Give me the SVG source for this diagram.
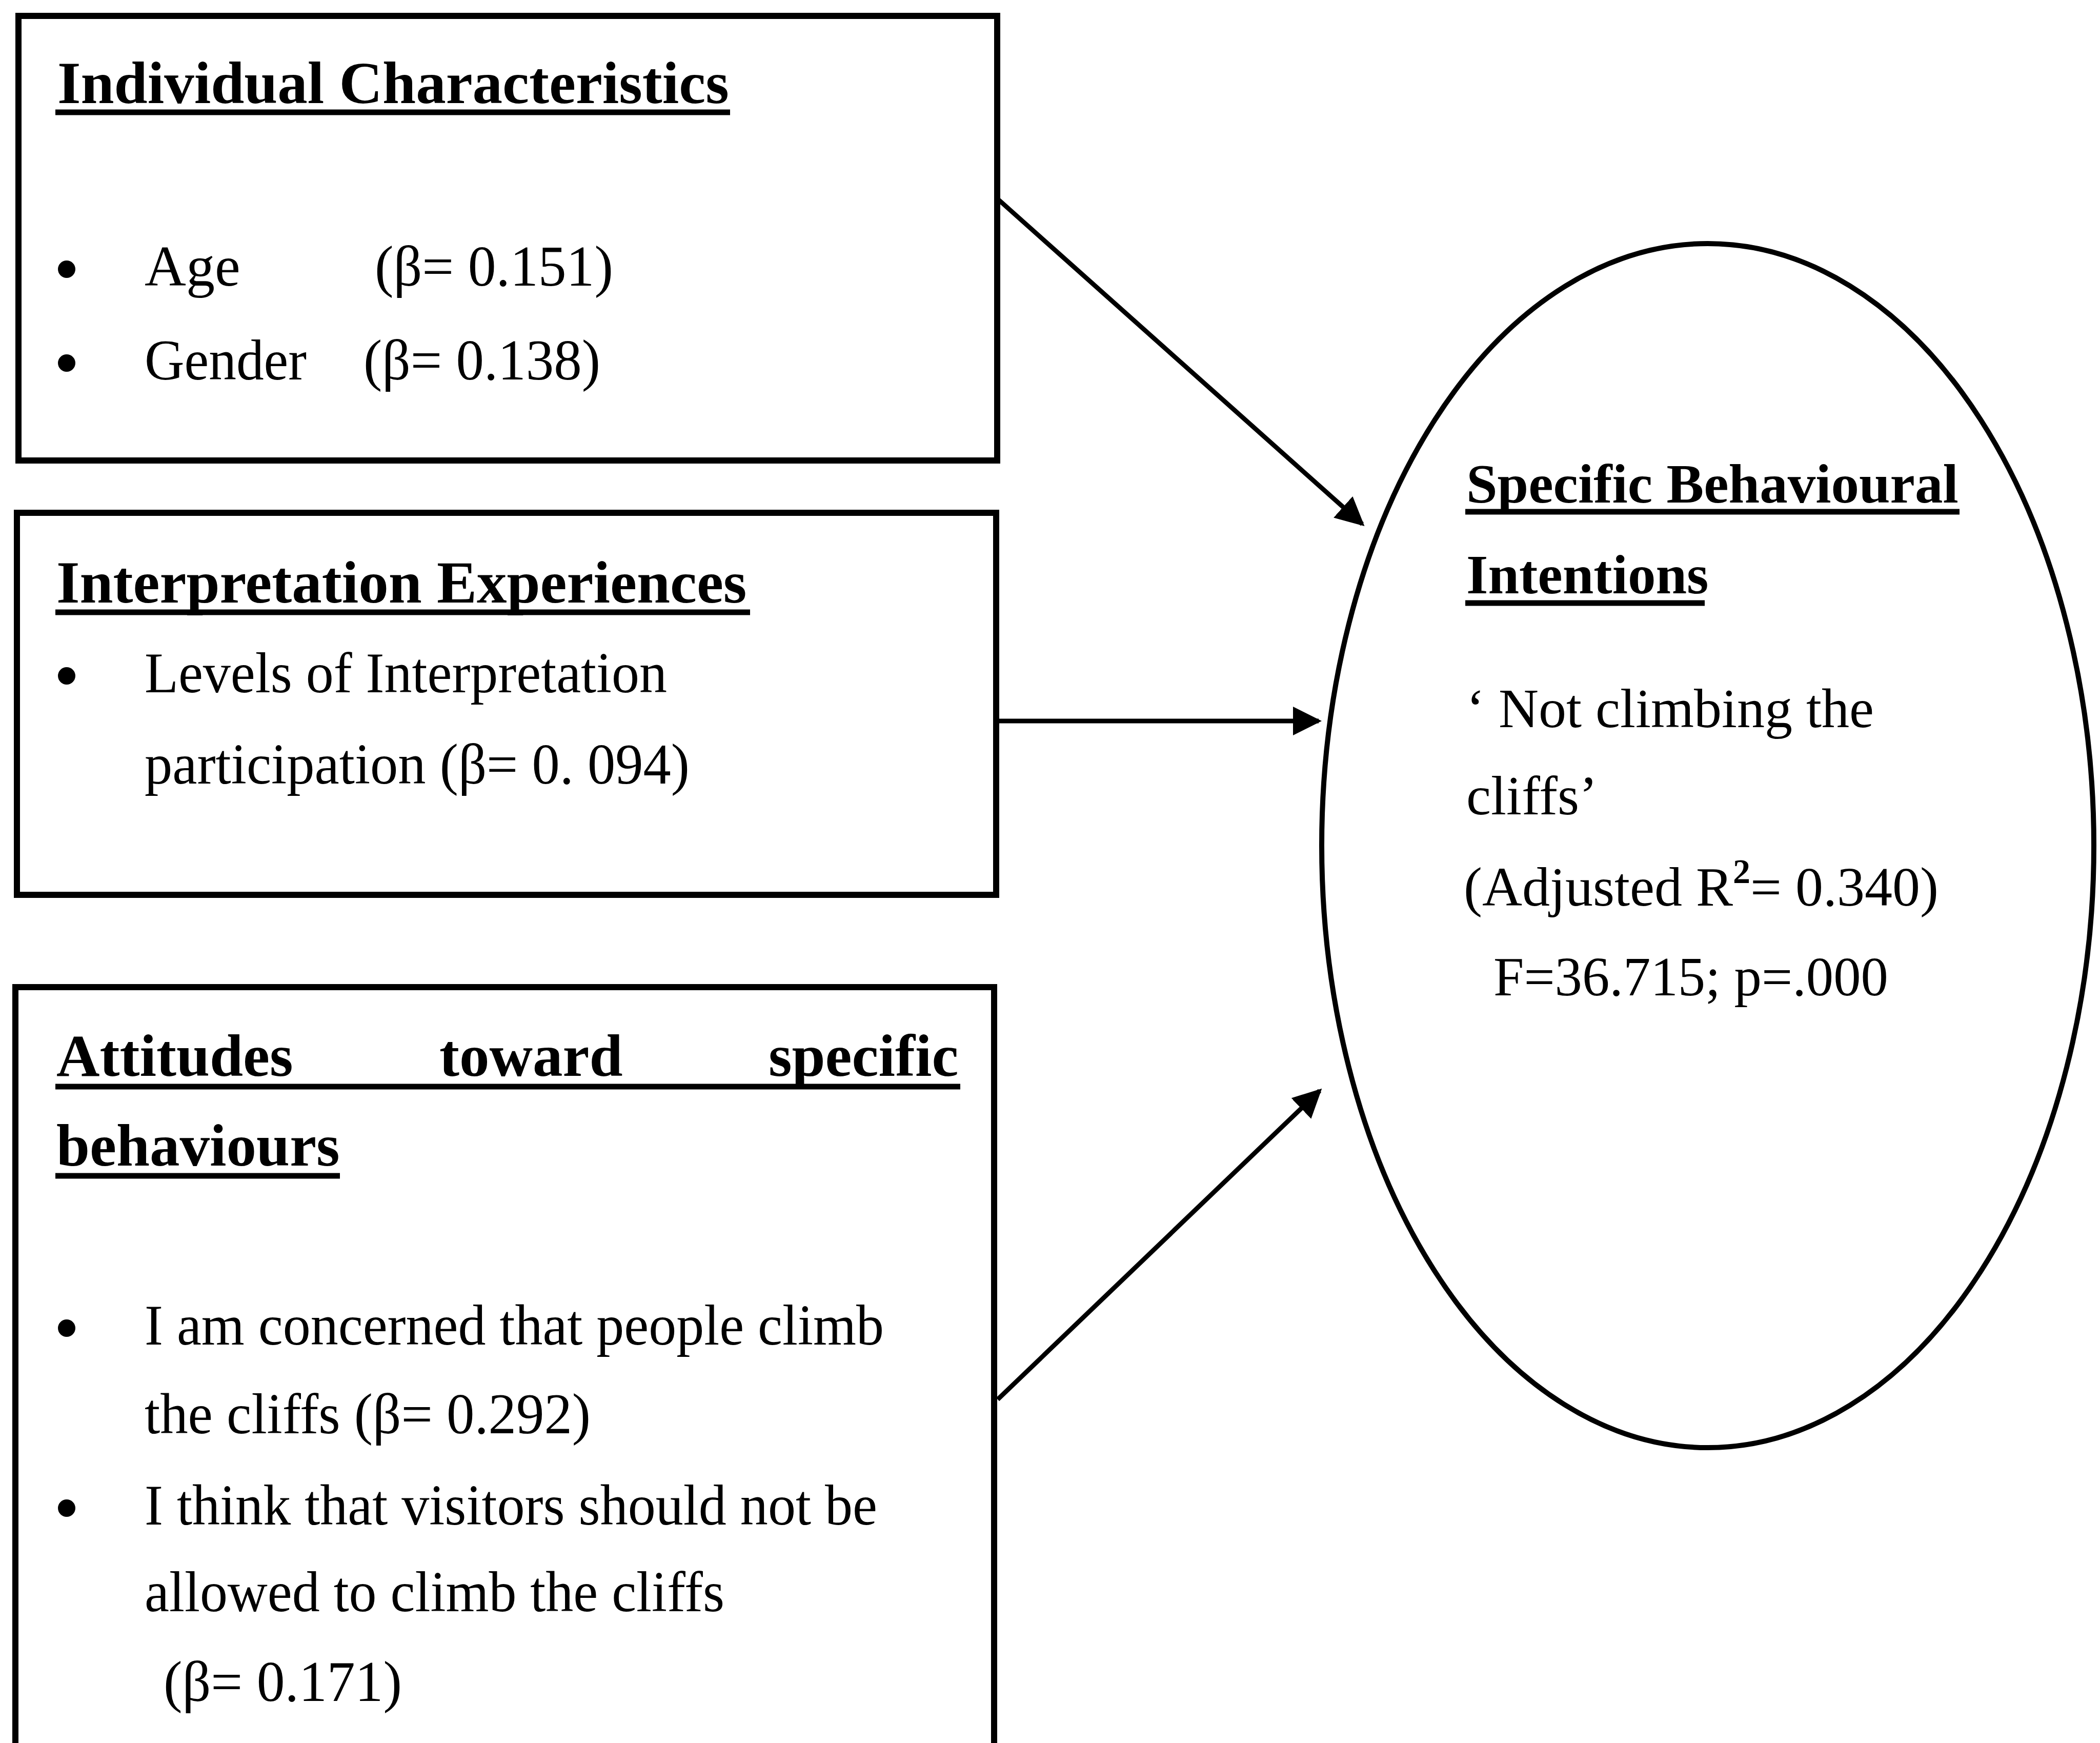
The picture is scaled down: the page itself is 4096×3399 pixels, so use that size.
<svg xmlns="http://www.w3.org/2000/svg" width="4096" height="3399" viewBox="0 0 4096 3399">
  <style>
    .frame { fill: none; stroke: #000; stroke-width: 12; }
    .oval { fill: none; stroke: #000; stroke-width: 10; }
    .link { fill: none; stroke: #000; stroke-width: 9; }
    .uline { stroke: #000; stroke-width: 11; }
    .head { font-family: "Liberation Serif", "Times New Roman", serif; font-weight: bold; font-size: 117px; fill: #000; }
    .body { font-family: "Liberation Serif", "Times New Roman", serif; font-size: 112px; fill: #000; }
    .oval-head { font-family: "Liberation Serif", "Times New Roman", serif; font-weight: bold; font-size: 109px; fill: #000; }
    .oval-body { font-family: "Liberation Serif", "Times New Roman", serif; font-size: 108px; fill: #000; }
    .dot { fill: #000; }
  </style>
  <defs>
    <marker id="arrow" markerUnits="userSpaceOnUse" viewBox="0 0 56 56" refX="50" refY="28" markerWidth="56" markerHeight="56" orient="auto">
      <path d="M0,0 L56,28 L0,56 Z" fill="#000"/>
    </marker>
  </defs>
  <rect width="4096" height="3399" fill="#fff"/>

  <!-- Individual characteristics -->
  <g id="individual">
    <rect class="frame" x="36" y="31" width="1909" height="867"/>
    <text class="head" x="112" y="201">Individual Characteristics</text>
    <line class="uline" x1="108" y1="219" x2="1424" y2="219"/>
    <circle class="dot" cx="130" cy="525" r="17"/>
    <text class="body" x="282" y="557">Age</text>
    <text class="body" x="731" y="557" textLength="465" lengthAdjust="spacingAndGlyphs">(β= 0.151)</text>
    <circle class="dot" cx="130" cy="708" r="17"/>
    <text class="body" x="282" y="740" textLength="316" lengthAdjust="spacingAndGlyphs">Gender</text>
    <text class="body" x="709" y="740" textLength="462" lengthAdjust="spacingAndGlyphs">(β= 0.138)</text>
  </g>

  <!-- Interpretation experiences -->
  <g id="interpretation">
    <rect class="frame" x="33" y="1000" width="1910" height="745"/>
    <text class="head" x="110" y="1175">Interpretation Experiences</text>
    <line class="uline" x1="108" y1="1194" x2="1463" y2="1194"/>
    <circle class="dot" cx="130" cy="1318" r="17"/>
    <text class="body" x="282" y="1350" textLength="1019" lengthAdjust="spacingAndGlyphs">Levels of Interpretation</text>
    <text class="body" x="282" y="1528" textLength="1063" lengthAdjust="spacingAndGlyphs">participation (β= 0. 094)</text>
  </g>

  <!-- Attitudes toward specific behaviours (box runs past the lower edge) -->
  <g id="attitudes">
    <path class="frame" d="M30,3420 V1925 H1939 V3420"/>
    <text class="head" y="2098"><tspan x="110">Attitudes</tspan><tspan x="857">toward</tspan><tspan x="1499">specific</tspan></text>
    <line class="uline" x1="108" y1="2119" x2="1873" y2="2119"/>
    <text class="head" x="110" y="2273">behaviours</text>
    <line class="uline" x1="108" y1="2293" x2="663" y2="2293"/>
    <circle class="dot" cx="130" cy="2590" r="17"/>
    <text class="body" x="282" y="2622" textLength="1442" lengthAdjust="spacingAndGlyphs">I am concerned that people climb</text>
    <text class="body" x="282" y="2795" textLength="870" lengthAdjust="spacingAndGlyphs">the cliffs (β= 0.292)</text>
    <circle class="dot" cx="130" cy="2941" r="17"/>
    <text class="body" x="282" y="2973" textLength="1429" lengthAdjust="spacingAndGlyphs">I think that visitors should not be</text>
    <text class="body" x="282" y="3142" textLength="1131" lengthAdjust="spacingAndGlyphs">allowed to climb the cliffs</text>
    <text class="body" x="319" y="3317" textLength="465" lengthAdjust="spacingAndGlyphs">(β= 0.171)</text>
  </g>

  <!-- Outcome: specific behavioural intentions -->
  <g id="intentions">
    <ellipse class="oval" cx="3331" cy="1649" rx="753" ry="1174"/>
    <text class="oval-head" x="2860" y="980">Specific Behavioural</text>
    <line class="uline" x1="2858" y1="998" x2="3822" y2="998"/>
    <text class="oval-head" x="2860" y="1157">Intentions</text>
    <line class="uline" x1="2858" y1="1176" x2="3325" y2="1176"/>
    <text class="oval-body" x="2860" y="1418">‘ Not climbing the</text>
    <text class="oval-body" x="2860" y="1588">cliffs’</text>
    <text class="oval-body" x="2855" y="1766">(Adjusted R<tspan font-size="68" font-weight="bold" dy="-44">2</tspan><tspan dy="44">= 0.340)</tspan></text>
    <text class="oval-body" x="2913" y="1941" textLength="770" lengthAdjust="spacingAndGlyphs">F=36.715; p=.000</text>
  </g>

  <!-- Regression paths -->
  <g id="connectors">
    <line class="link" x1="1946" y1="388" x2="2657" y2="1022" marker-end="url(#arrow)"/>
    <line class="link" x1="1946" y1="1406" x2="2572" y2="1406" marker-end="url(#arrow)"/>
    <line class="link" x1="1946" y1="2729" x2="2574" y2="2127" marker-end="url(#arrow)"/>
  </g>
</svg>
